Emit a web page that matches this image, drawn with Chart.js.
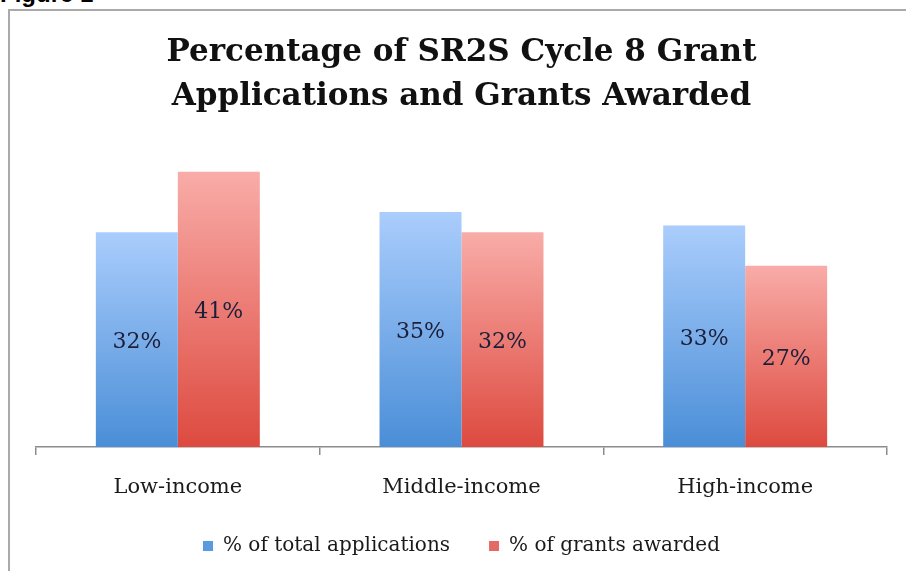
<!DOCTYPE html>
<html>
<head>
<meta charset="utf-8">
<script src="https://cdn.jsdelivr.net/npm/chart.js@4.4.0/dist/chart.umd.min.js"></script>
<style>
  html, body { margin: 0; padding: 0; background: #fff; overflow: hidden; }
  #wrap { position: relative; width: 906px; height: 571px; }
  #fig { position: absolute; left: 0; top: -18px; font: bold 24px "Liberation Sans", Arial, sans-serif; line-height: 24px; color: #000; }
  #frame { position: absolute; left: 8px; top: 9px; width: 1000px; height: 700px; border-left: 2px solid #aaa; border-top: 2px solid #aaa; }
  canvas { position: absolute; left: 0; top: 0; }
</style>
</head>
<body>
<div id="wrap">
  <div id="fig">Figure 1</div>
  <div id="frame"></div>
  <canvas id="c" width="906" height="571"></canvas>
</div>
<script>
// data
const categories = ["Low-income", "Middle-income", "High-income"];
const applications = [32, 35, 33];
const awarded = [41, 32, 27];
const seriesNames = ["% of total applications", "% of grants awarded"];
const titleLines = ["Percentage of SR2S Cycle 8 Grant", "Applications and Grants Awarded"];

const SERIF = "'DejaVu Serif', 'Liberation Serif', serif";

// per-bar vertical gradient: light top, deeper bottom
function barFill(top, bottom, solid){
  return ctx => {
    const chart = ctx.chart;
    if (!chart.chartArea || ctx.dataIndex == null || !chart.scales.y) return solid;
    const yTop = chart.scales.y.getPixelForValue(ctx.raw);
    const yBot = chart.scales.y.getPixelForValue(0);
    const g = chart.ctx.createLinearGradient(0, yTop, 0, yBot);
    g.addColorStop(0, top);
    g.addColorStop(1, bottom);
    return g;
  };
}

const valueLabels = {
  id: "valueLabels",
  afterDatasetsDraw(chart){
    const { ctx } = chart;
    ctx.save();
    ctx.font = "22px " + SERIF;
    ctx.fillStyle = "#1c1f3a";
    ctx.textAlign = "center";
    ctx.textBaseline = "middle";
    chart.data.datasets.forEach((ds, i) => {
      chart.getDatasetMeta(i).data.forEach((bar, j) => {
        const y = (bar.y + bar.base) / 2 + 3;
        ctx.fillText(ds.data[j] + "%", bar.x, y);
      });
    });
    ctx.restore();
  }
};

new Chart(document.getElementById("c"), {
  type: "bar",
  data: {
    labels: categories,
    datasets: [
      { label: seriesNames[0], data: applications,
        backgroundColor: barFill("#aacdfc", "#4a8ed7", "#6fa8ea"), solid: "#5a9be0" },
      { label: seriesNames[1], data: awarded,
        backgroundColor: barFill("#f9aca8", "#dd4a3f", "#ea7770"), solid: "#e66a63" },
    ]
  },
  options: {
    responsive: false,
    animation: false,
    layout: { padding: { left: 36, right: 19, top: 0, bottom: 5 } },
    datasets: { bar: { categoryPercentage: 0.578, barPercentage: 1.0 } },
    scales: {
      y: { display: false, min: 0, max: 45 },
      x: {
        offset: true,
        border: { display: true, color: "#8c8c8c", width: 1.5 },
        grid: { display: true, drawOnChartArea: false, drawTicks: true, tickLength: 8, color: "#8c8c8c", lineWidth: 1.5, offset: true },
        ticks: { color: "#1a1a1a", padding: 22, font: { family: SERIF, size: 21, lineHeight: 1.0 } },
        afterFit(scale){ scale.height = 50; }
      }
    },
    plugins: {
      title: {
        display: true,
        text: titleLines,
        color: "#111",
        font: { family: SERIF, size: 31, weight: "bold", lineHeight: 1.45 },
        padding: { top: 30, bottom: 25 }
      },
      legend: {
        position: "bottom",
        labels: {
          color: "#1a1a1a",
          font: { family: SERIF, size: 20 },
          boxWidth: 10, boxHeight: 10, padding: 39,
          generateLabels(chart){
            return chart.data.datasets.map((ds, i) => ({
              text: ds.label, fillStyle: ds.solid, strokeStyle: ds.solid, lineWidth: 0,
              hidden: false, datasetIndex: i, fontColor: "#1a1a1a"
            }));
          }
        }
      },
      tooltip: { enabled: false }
    }
  },
  plugins: [valueLabels]
});
</script>
</body>
</html>
